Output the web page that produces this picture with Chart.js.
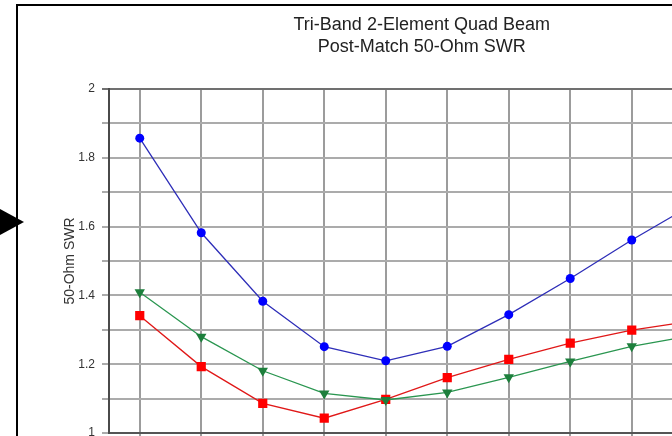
<!DOCTYPE html>
<html>
<head>
<meta charset="utf-8">
<title>Tri-Band 2-Element Quad Beam</title>
<script src="https://cdn.jsdelivr.net/npm/chart.js@4.4.1/dist/chart.umd.min.js"></script>
<style>
    html, body { margin: 0; padding: 0; background: #fff; overflow: hidden; }
    body { position: relative; width: 672px; height: 436px; }
    #frame {
        position: absolute; left: 16px; top: 4px; width: 900px; height: 600px;
        border-top: 2px solid #000; border-left: 2px solid #000;
    }
    #arrow {
        position: absolute; left: -2px; top: 207.5px; width: 0; height: 0;
        border-left: 26px solid #000;
        border-top: 14.5px solid transparent;
        border-bottom: 14.5px solid transparent;
    }
    #wrap { position: absolute; left: 18px; top: 0; width: 810px; height: 460px; }
</style>
</head>
<body>
<div id="frame"></div>
<div id="arrow"></div>
<div id="wrap"><canvas id="swrChart"></canvas></div>
<script>
// Titik frekuensi (label sumbu X tidak terlihat, terpotong di bawah)
const steps = ['1', '2', '3', '4', '5', '6', '7', '8', '9', '10', '11'];

// SWR per band
const swrBlue = [1.857, 1.582, 1.383, 1.251, 1.210, 1.252, 1.344, 1.449, 1.561, 1.665];
const swrRed = [1.341, 1.193, 1.086, 1.043, 1.098, 1.161, 1.214, 1.261, 1.299, 1.326];
const swrGreen = [1.409, 1.280, 1.181, 1.115, 1.096, 1.118, 1.162, 1.208, 1.252, 1.284];

const titleLines = ['Tri-Band 2-Element Quad Beam', 'Post-Match 50-Ohm SWR'];
const yTitle = '50-Ohm SWR';

document.addEventListener('DOMContentLoaded', function() {
    const ctx = document.getElementById('swrChart').getContext('2d');
    const fontFamily = '"Liberation Sans", Arial, sans-serif';

    new Chart(ctx, {
        type: 'line',
        data: {
            labels: steps,
            datasets: [{
                data: swrBlue,
                borderColor: '#2e2eb8',
                borderWidth: 1.3,
                pointStyle: 'circle',
                pointRadius: 4.5,
                pointBackgroundColor: '#0000ff',
                pointBorderColor: '#0000ff',
                pointBorderWidth: 0,
                order: 2
            }, {
                data: swrRed,
                borderColor: '#e01818',
                borderWidth: 1.3,
                pointStyle: 'rect',
                pointRadius: 6.5,
                pointBackgroundColor: '#ff0000',
                pointBorderColor: '#ff0000',
                pointBorderWidth: 0,
                order: 1
            }, {
                data: swrGreen,
                borderColor: '#2a9650',
                borderWidth: 1.3,
                pointStyle: 'triangle',
                rotation: 180,
                pointRadius: 6,
                pointBackgroundColor: '#1d7f3c',
                pointBorderColor: '#1d7f3c',
                pointBorderWidth: 0,
                order: 0
            }]
        },
        options: {
            responsive: true,
            maintainAspectRatio: false,
            animation: false,
            layout: {
                padding: { left: 40, right: 42.5, top: 0, bottom: 21 }
            },
            plugins: {
                legend: { display: false },
                tooltip: { enabled: false },
                title: {
                    display: true,
                    text: titleLines,
                    color: '#222',
                    font: { family: fontFamily, size: 18, weight: 'normal', lineHeight: 1.2 },
                    padding: { top: 14.7, bottom: 31.1 }
                }
            },
            scales: {
                x: {
                    type: 'category',
                    offset: true,
                    grid: {
                        color: '#9c9c9c',
                        lineWidth: 2,
                        offset: false,
                        drawTicks: true,
                        tickLength: 6
                    },
                    border: { color: '#555', width: 2 },
                    ticks: { display: false }
                },
                y: {
                    min: 1,
                    max: 2,
                    afterFit: function(scale) { scale.width = 51; },
                    grid: {
                        color: function(c) {
                            return c.tick && c.tick.value === 2 ? '#707070' : '#ababab';
                        },
                        lineWidth: 2,
                        tickLength: 7
                    },
                    border: { color: '#4a4a4a', width: 2 },
                    ticks: {
                        stepSize: 0.1,
                        padding: 7,
                        color: '#333',
                        font: { family: fontFamily, size: 12 },
                        callback: function(value) {
                            const tenth = Math.round(value * 10);
                            return tenth % 2 === 0 ? String(tenth / 10) : '';
                        }
                    },
                    title: {
                        display: true,
                        text: yTitle,
                        color: '#333',
                        font: { family: fontFamily, size: 14, lineHeight: 1.2 },
                        padding: { top: 4, bottom: 0 }
                    }
                }
            }
        }
    });
});
</script>
</body>
</html>
